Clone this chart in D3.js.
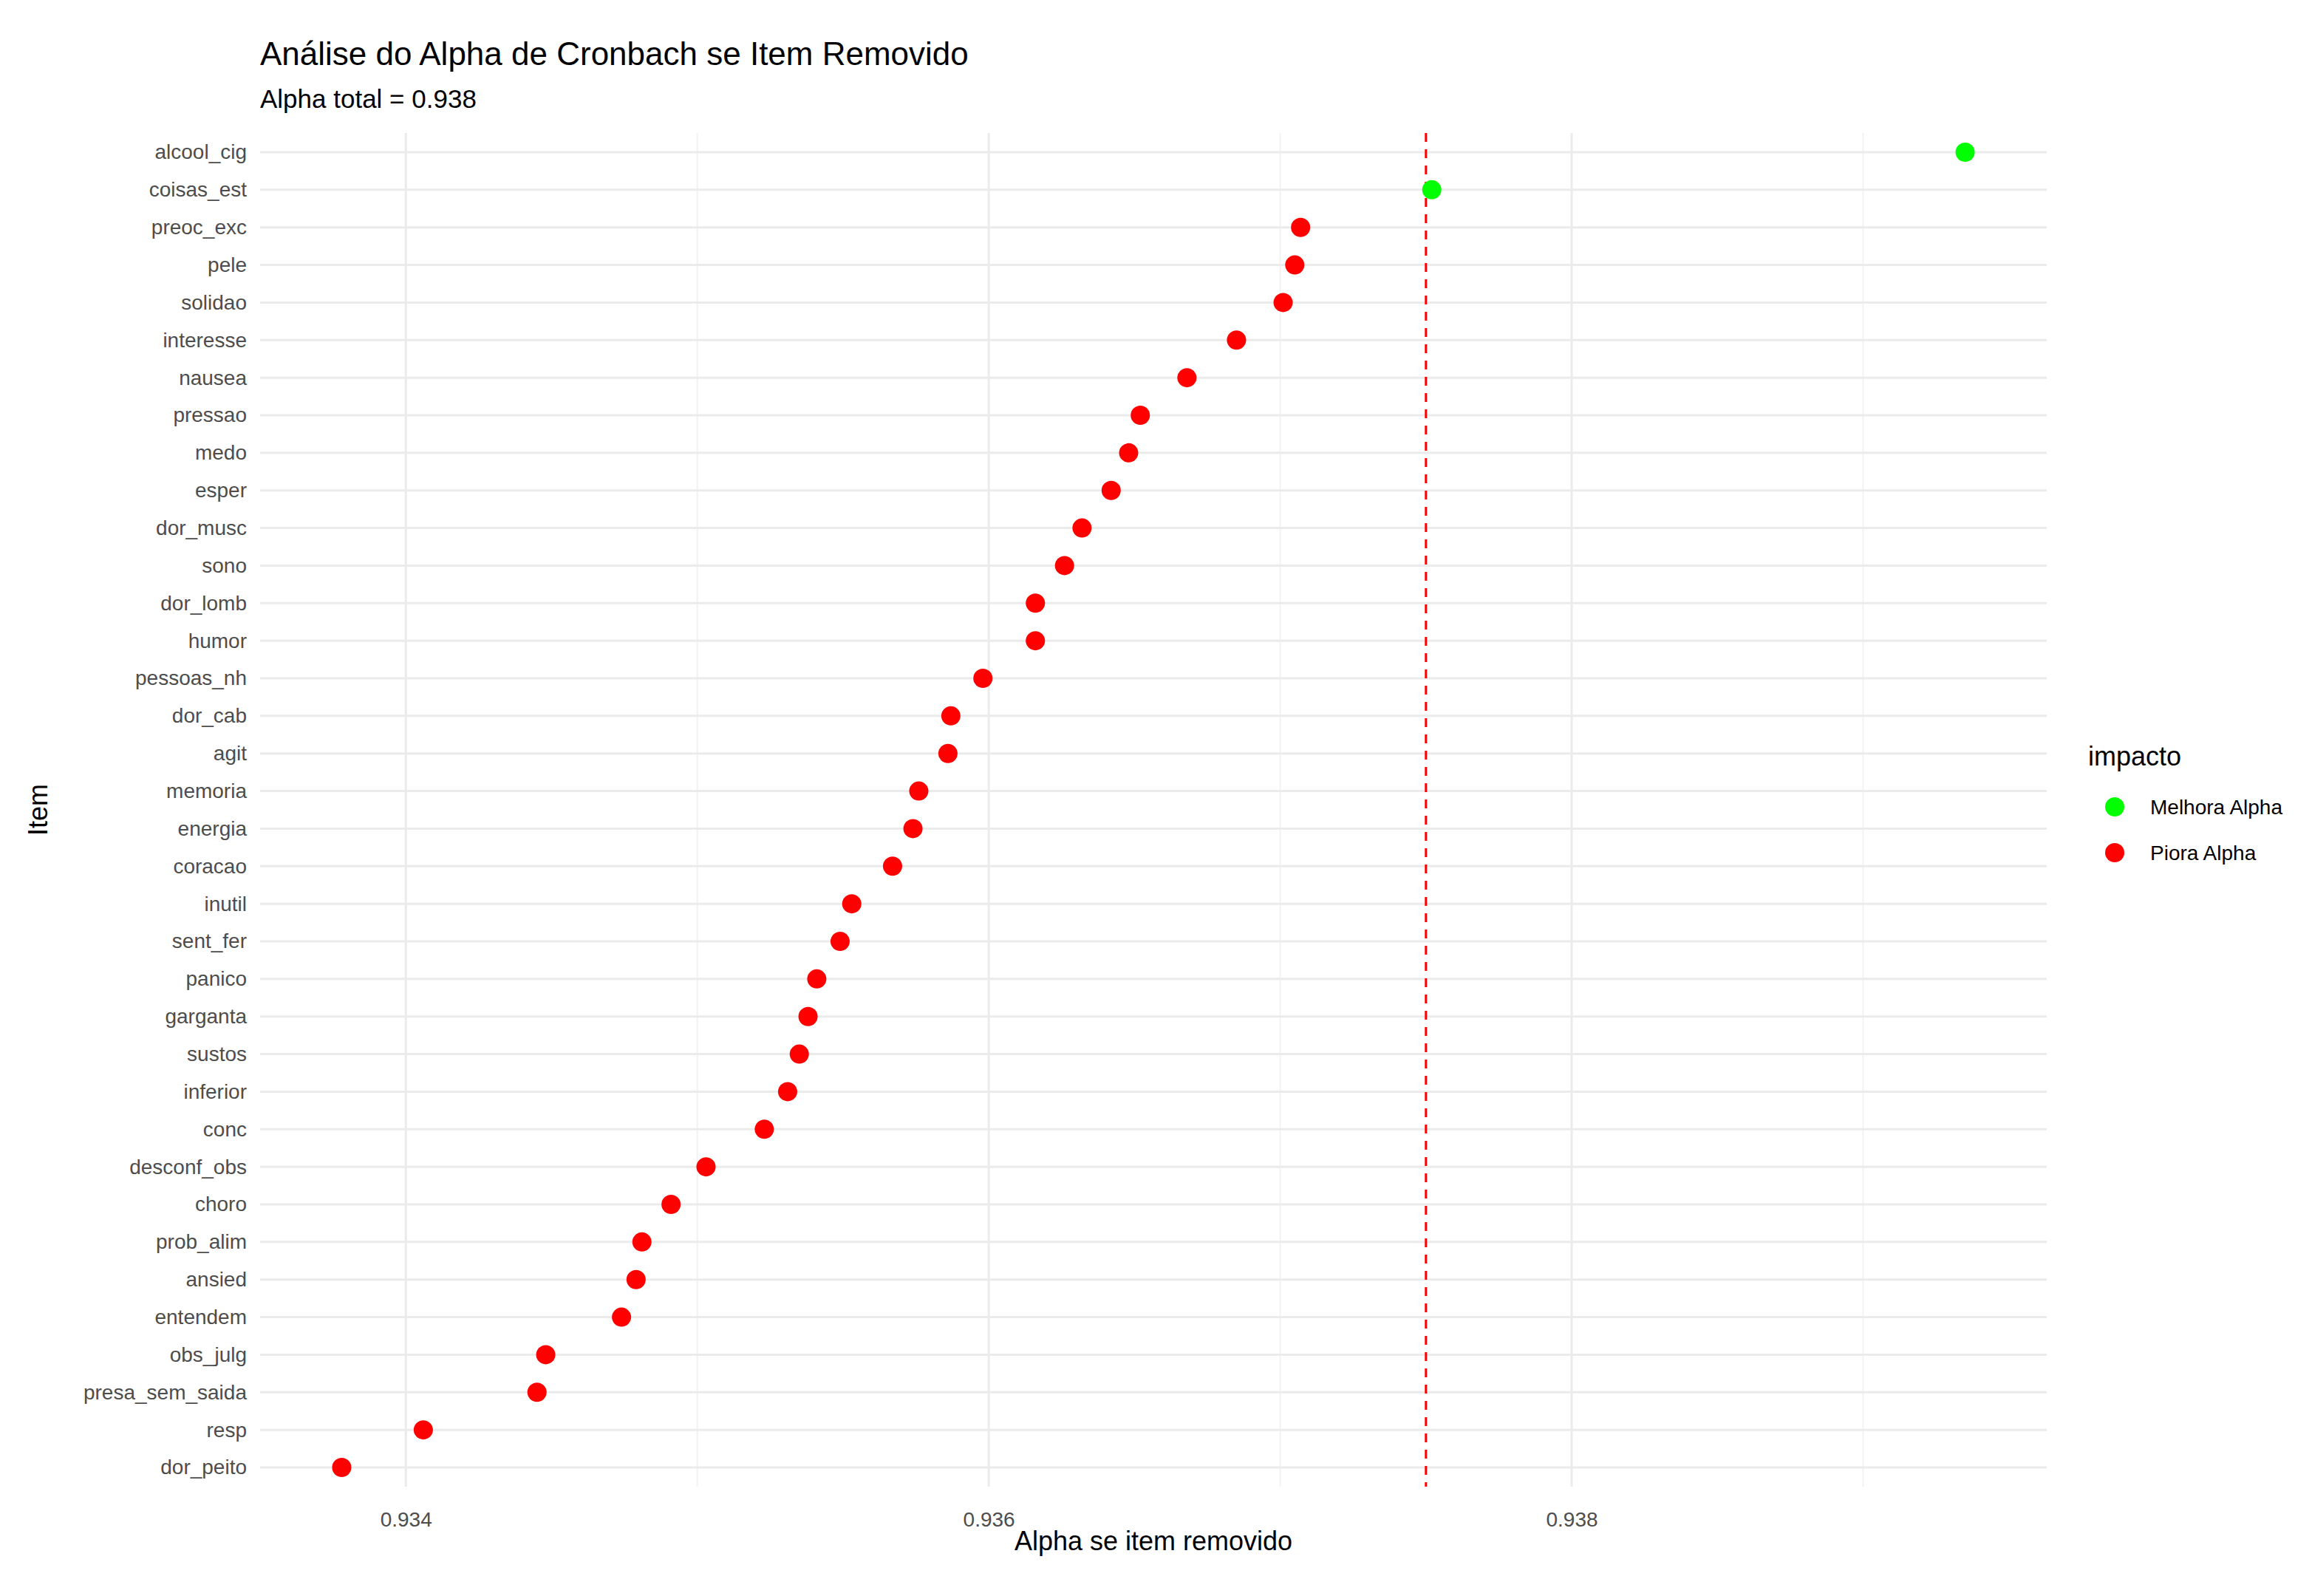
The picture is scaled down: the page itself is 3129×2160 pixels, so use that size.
<!DOCTYPE html>
<html><head><meta charset="utf-8">
<script src="https://cdn.jsdelivr.net/npm/d3@7"></script>
<style>body{margin:0;background:#fff}text{font-family:Arial,"Liberation Sans",sans-serif}</style>
</head><body><svg id="c" width="3129" height="2160"></svg>
<script>
const items=["alcool_cig","coisas_est","preoc_exc","pele","solidao","interesse","nausea","pressao","medo","esper","dor_musc","sono","dor_lomb","humor","pessoas_nh","dor_cab","agit","memoria","energia","coracao","inutil","sent_fer","panico","garganta","sustos","inferior","conc","desconf_obs","choro","prob_alim","ansied","entendem","obs_julg","presa_sem_saida","resp","dor_peito"];
const alphaDrop=[0.93935,0.93752,0.93707,0.93705,0.93701,0.93685,0.93668,0.93652,0.93648,0.93642,0.93632,0.93626,0.93616,0.93616,0.93598,0.93587,0.93586,0.93576,0.93574,0.93567,0.93553,0.93549,0.93541,0.93538,0.93535,0.93531,0.93523,0.93503,0.93491,0.93481,0.93479,0.93474,0.93448,0.93445,0.93406,0.93378];
const alphaTotal=0.9375;
const xTicks=[0.934,0.936,0.938];
const xMinor=[0.933,0.935,0.937,0.939];
const groups=["Melhora Alpha","Piora Alpha"];
const colors=["#00ff00","#ff0000"];

const svg=d3.select("#c");
const L=352,R=2770,T=180,B=2012;
const x=d3.scaleLinear().domain([0.93350,0.93963]).range([L,R]);
const y=d3.scalePoint().domain(items).range([206,1986]);
const col=d3.scaleOrdinal().domain(groups).range(colors);
const g=svg.append("g");
g.selectAll(".mn").data(xMinor.filter(v=>x(v)>=L&&x(v)<=R)).join("line").attr("x1",d=>x(d)).attr("x2",d=>x(d)).attr("y1",T).attr("y2",B).attr("stroke","#f2f2f2").attr("stroke-width",2);
g.selectAll(".mj").data(xTicks).join("line").attr("x1",d=>x(d)).attr("x2",d=>x(d)).attr("y1",T).attr("y2",B).attr("stroke","#ebebeb").attr("stroke-width",3);
g.selectAll(".hy").data(items).join("line").attr("x1",L).attr("x2",R).attr("y1",d=>y(d)).attr("y2",d=>y(d)).attr("stroke","#ebebeb").attr("stroke-width",3);
const xa=svg.append("g").attr("transform",`translate(0,${B})`).call(d3.axisBottom(x).tickValues(xTicks).tickFormat(d3.format(".3f")).tickSize(0).tickPadding(34));
xa.select(".domain").remove();
xa.selectAll("text").attr("font-size",28).attr("fill","#4d4d4d");
const ya=svg.append("g").attr("transform",`translate(${L},0)`).call(d3.axisLeft(y).tickSize(0).tickPadding(18));
ya.select(".domain").remove();
ya.selectAll("text").attr("font-size",28).attr("fill","#4d4d4d");
svg.append("line").attr("x1",x(alphaTotal)).attr("x2",x(alphaTotal)).attr("y1",T).attr("y2",B).attr("stroke","#ff0000").attr("stroke-width",3).attr("stroke-dasharray","12,10");
svg.selectAll(".pt").data(items.map((k,i)=>({k,v:alphaDrop[i]}))).join("circle")
 .attr("cx",d=>x(d.v)).attr("cy",d=>y(d.k)).attr("r",13)
 .attr("fill",d=>col(d.v>alphaTotal?groups[0]:groups[1]));
svg.append("text").attr("x",352).attr("y",88).attr("font-size",44).attr("fill","#000").text("Análise do Alpha de Cronbach se Item Removido");
svg.append("text").attr("x",352).attr("y",146).attr("font-size",35).attr("fill","#000").text("Alpha total = 0.938");
svg.append("text").attr("x",(L+R)/2).attr("y",2098).attr("text-anchor","middle").attr("font-size",36).text("Alpha se item removido");
svg.append("text").attr("transform","translate(64,1096) rotate(-90)").attr("text-anchor","middle").attr("font-size",36).text("Item");
svg.append("text").attr("x",2826).attr("y",1036).attr("font-size",36).text("impacto");
groups.forEach((gname,i)=>{
 svg.append("circle").attr("cx",2862).attr("cy",1092+i*62).attr("r",13).attr("fill",colors[i]);
 svg.append("text").attr("x",2910).attr("y",1102+i*62).attr("font-size",28).text(gname);
});
</script></body></html>
